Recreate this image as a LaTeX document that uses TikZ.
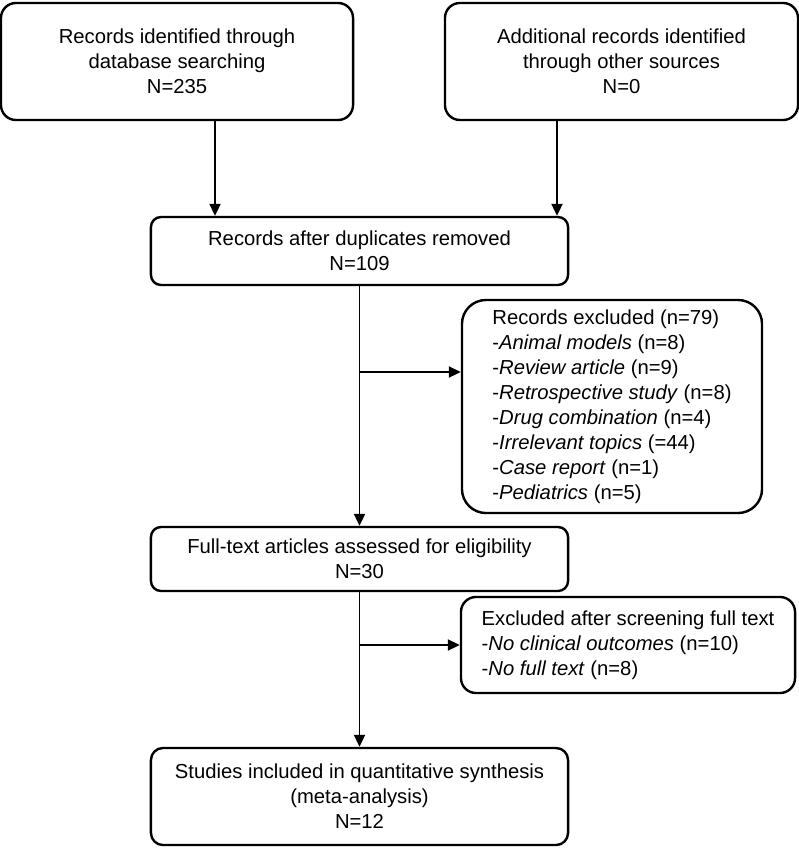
\documentclass[tikz,border=0pt]{standalone}
\usepackage{fontspec}
\setmainfont{Liberation Sans}
\usetikzlibrary{arrows.meta}

\begin{document}
\begin{tikzpicture}[x=0.025cm, y=-0.025cm]
  \tikzstyle{box}=[draw, line width=0.06cm, rounded corners=0.375cm, inner sep=0pt, align=center, font=\fontsize{14.4}{17.8}\selectfont]
  \tikzstyle{list}=[box, align=left]
  \tikzstyle{flow}=[-{Triangle[length=0.3cm,width=0.28cm]}, line width=0.035cm]

  \useasboundingbox (0,0) rectangle (799,848);
  \node[box, minimum width=8.8cm, minimum height=2.925cm] (A) at (177,61.5) {Records identified through\\database searching\\N=235}; % Top-left box
  \node[box, minimum width=8.825cm, minimum height=2.925cm] (B) at (621.5,61.5) {Additional records identified\\through other sources\\N=0}; % Top-right box
  \node[box, rounded corners=0.25cm, minimum width=10.425cm, minimum height=1.7cm] (C) at (359.5,251) {Records after duplicates removed\\N=109};
  \node[list, rounded corners=0.6cm, minimum width=7.5cm, minimum height=5.325cm] (D) at (612,406.5) {Records excluded (n=79)\\-\textit{Animal models} (n=8)\\-\textit{Review article} (n=9)\\-\textit{Retrospective study} (n=8)\\-\textit{Drug combination} (n=4)\\-\textit{Irrelevant topics} (=44)\\-\textit{Case report} (n=1)\\-\textit{Pediatrics} (n=5)}; % Right list box
  \node[box, rounded corners=0.25cm, minimum width=10.425cm, minimum height=1.6cm] (E) at (359.5,559) {Full-text articles assessed for eligibility\\N=30};
  \node[list, minimum width=8.35cm, minimum height=2.4cm] (F) at (628,645) {Excluded after screening full text\\-\textit{No clinical outcomes} (n=10)\\-\textit{No full text} (n=8)}; % Lower right box
  \node[box, rounded corners=0.3cm, minimum width=10.425cm, minimum height=2.425cm] (G) at (359.5,796.5) {Studies included in quantitative synthesis\\(meta-analysis)\\N=12}; % Bottom box

  \draw[flow] ([xshift=0.95cm]A.south) -- ([xshift=0.95cm]A.south |- C.north); % Left top arrow
  \draw[flow] ([xshift=-1.6125cm]B.south) -- ([xshift=-1.6125cm]B.south |- C.north); % Right top arrow
  \draw[flow] (C.south) -- (E.north);
  \coordinate (S) at (359.5,372);
  \draw[flow] (S) -- (S -| D.west); % First exclusion arrow
  \draw[flow] (E.south) -- (G.north);
  \draw[flow] (E.south |- F.west) -- (F.west); % Second exclusion arrow
\end{tikzpicture}
\end{document}
